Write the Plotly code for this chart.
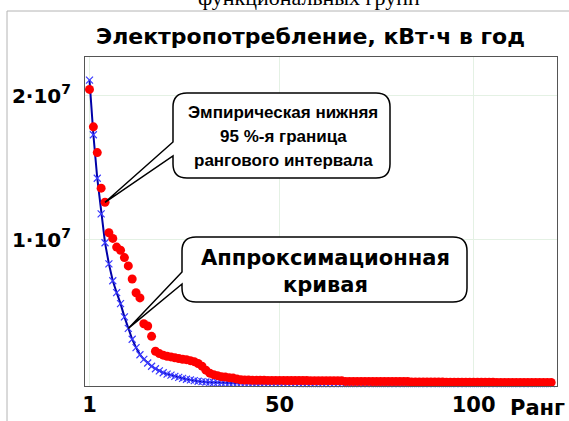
import plotly.graph_objects as go

# ---------------- data ----------------
ranks = list(range(1, 121))

empirical_m = [
    20.45, 17.85, 16.06, 13.59, 12.61, 10.49, 10.10, 9.50, 9.28, 8.77,
    8.19, 7.28, 6.33, 5.97, 4.17, 4.02, 3.30, 2.26, 2.10, 1.99,
    1.92, 1.87, 1.81, 1.76, 1.71, 1.68, 1.61, 1.54, 1.41, 1.23,
    0.95, 0.74, 0.64, 0.57, 0.50, 0.47, 0.43, 0.40, 0.33, 0.28,
    0.26, 0.26, 0.25, 0.25, 0.25, 0.25, 0.24, 0.24, 0.24, 0.24,
    0.24, 0.23, 0.23, 0.23, 0.23, 0.23, 0.23, 0.22, 0.22, 0.22,
    0.22, 0.22, 0.22, 0.22, 0.22, 0.21, 0.17, 0.17, 0.17, 0.17,
    0.17, 0.17, 0.17, 0.16, 0.16, 0.16, 0.16, 0.16, 0.16, 0.16,
    0.16, 0.16, 0.16, 0.12, 0.12, 0.12, 0.12, 0.12, 0.12, 0.12,
    0.12, 0.12, 0.11, 0.11, 0.11, 0.11, 0.11, 0.11, 0.11, 0.11,
    0.11, 0.11, 0.11, 0.11, 0.11, 0.10, 0.10, 0.10, 0.10, 0.10,
    0.10, 0.10, 0.10, 0.10, 0.10, 0.10, 0.10, 0.10, 0.10, 0.10,
]

# approximation curve (x1e6)
approx_m = [
    21.09, 17.30, 14.28, 11.80, 9.80, 8.33, 7.16, 6.33, 5.57, 4.65,
    3.85, 3.10, 2.52, 2.02, 1.70, 1.45, 1.22, 1.05, 0.90, 0.77,
    0.68, 0.60, 0.52, 0.45, 0.38, 0.32, 0.27, 0.22, 0.18, 0.15,
    0.13, 0.11, 0.09, 0.08, 0.07, 0.065, 0.06, 0.06, 0.055, 0.05,
    0.05, 0.045, 0.045, 0.04, 0.04, 0.04, 0.035, 0.035, 0.035, 0.03,
    0.03, 0.03, 0.03, 0.03, 0.025, 0.025, 0.025, 0.025, 0.025, 0.02,
    0.02, 0.02, 0.02, 0.02, 0.02, 0.02, 0.02, 0.02, 0.015, 0.015,
    0.015, 0.015, 0.015, 0.015, 0.015, 0.015, 0.015, 0.015, 0.015, 0.01,
    0.01, 0.01, 0.01, 0.01, 0.01, 0.01, 0.01, 0.01, 0.01, 0.01,
    0.01, 0.01, 0.01, 0.01, 0.01, 0.01, 0.01, 0.01, 0.01, 0.01,
    0.01, 0.01, 0.01, 0.01, 0.01, 0.01, 0.01, 0.01, 0.01, 0.01,
    0.01, 0.01, 0.01, 0.01, 0.01, 0.01, 0.01, 0.01, 0.01, 0.01,
]

empirical = [v * 1e6 for v in empirical_m]
approx = [v * 1e6 for v in approx_m]

x_tickvals = [1, 50, 100]
x_ticktext = ["<b>1</b>", "<b>50</b>", "<b>100</b>"]
y_tickvals = [1e7, 2e7]
y_ticktext = ["<b>1·10<sup>7</sup></b>", "<b>2·10<sup>7</sup></b>"]

title_text = "<b>Электропотребление, кВт·ч в год</b>"
top_cut_text = "функциональных групп"
bubble1_lines = ["<b>Эмпирическая нижняя</b>", "<b>95 %-я граница</b>", "<b>рангового интервала</b>"]
bubble2_lines = ["<b>Аппроксимационная</b>", "<b>кривая</b>"]
x_name = "<b>Ранг</b>"

# ---------------- layout geometry ----------------
W, H = 569, 421
L, R, T, B = 85, 557, 57, 386
x_range = [-0.16, 121.5]
y_range = [-1.5e5, 2.27e7]
ARIAL = "Liberation Sans, Arial, sans-serif"
WIDE = "DejaVu Sans, Verdana, sans-serif"


def data_to_px(x, y):
    px = L + (x - x_range[0]) / (x_range[1] - x_range[0]) * (R - L)
    py = B - (y - y_range[0]) / (y_range[1] - y_range[0]) * (B - T)
    return px, py


def px_to_paper(px, py):
    return (px - L) / (R - L), (B - py) / (B - T)


def bubble_path(x0, y0, x1, y1, r, wy0, wy1, tip):
    tx, ty = tip
    seq = [
        ("M", [(x0 + r, y0)]),
        ("L", [(x1 - r, y0)]),
        ("Q", [(x1, y0), (x1, y0 + r)]),
        ("L", [(x1, y1 - r)]),
        ("Q", [(x1, y1), (x1 - r, y1)]),
        ("L", [(x0 + r, y1)]),
        ("Q", [(x0, y1), (x0, y1 - r)]),
        ("L", [(x0, wy1)]),
        ("L", [(tx, ty)]),
        ("L", [(x0, wy0)]),
        ("L", [(x0, y0 + r)]),
        ("Q", [(x0, y0), (x0 + r, y0)]),
    ]
    out = []
    for cmd, pts in seq:
        coords = []
        for (a, b) in pts:
            u, v = px_to_paper(a, b)
            coords.append(f"{u:.5f},{v:.5f}")
        out.append(cmd + " " + " ".join(coords))
    return " ".join(out) + " Z"


fig = go.Figure()

fig.add_trace(go.Scatter(
    x=ranks, y=approx, mode="lines+markers",
    line=dict(color="#0000a8", width=2),
    marker=dict(symbol="x-thin", size=7, line=dict(color="#3a3aff", width=1.2)),
    cliponaxis=False, showlegend=False,
))
fig.add_trace(go.Scatter(
    x=ranks, y=empirical, mode="markers",
    marker=dict(symbol="circle", size=9, color="#ff0000", line=dict(width=0)),
    cliponaxis=False, showlegend=False,
))

shapes = []
# outer thin image border
bx0, by0 = px_to_paper(7, 11)
bx1, by1 = px_to_paper(W + 5, 11)
bx2, by2 = px_to_paper(7, H + 5)
shapes.append(dict(type="line", xref="paper", yref="paper", x0=bx0, y0=by0, x1=bx1, y1=by1,
                   line=dict(color="#b4b4b4", width=1)))
shapes.append(dict(type="line", xref="paper", yref="paper", x0=bx0, y0=by0, x1=bx2, y1=by2,
                   line=dict(color="#b4b4b4", width=1)))

tip1 = data_to_px(ranks[4], empirical[4])
tip2 = data_to_px(ranks[10], approx[10])
shapes.append(dict(type="path", xref="paper", yref="paper",
                   path=bubble_path(173, 93, 390, 178, 14, 142, 156, tip1),
                   fillcolor="white", line=dict(color="black", width=1.5)))
shapes.append(dict(type="path", xref="paper", yref="paper",
                   path=bubble_path(182, 237, 467, 302, 14, 272, 284, tip2),
                   fillcolor="white", line=dict(color="black", width=1.5)))

annotations = []


def add_text(text, cx, cy, size, family=ARIAL, color="black", xanchor="center"):
    u, v = px_to_paper(cx, cy)
    annotations.append(dict(text=text, x=u, y=v, xref="paper", yref="paper",
                            xanchor=xanchor, yanchor="middle", showarrow=False,
                            font=dict(family=family, size=size, color=color)))


add_text(top_cut_text, 309, -2, 22, family="Liberation Serif, Times New Roman, serif")
add_text(title_text, 310, 36, 22, family=WIDE)
for i, line in enumerate(bubble1_lines):
    add_text(line, 283, 112 + 24 * i, 17)
for i, line in enumerate(bubble2_lines):
    add_text(line, 325, 258 + 27 * i, 21, family=WIDE)
add_text(x_name, 537, 408, 21, family=WIDE)

fig.update_layout(
    width=W, height=H,
    margin=dict(l=L, r=W - R, t=T, b=H - B, pad=0, autoexpand=False),
    paper_bgcolor="white", plot_bgcolor="white",
    shapes=shapes, annotations=annotations,
    font=dict(family=WIDE, color="black"),
    xaxis=dict(range=x_range, tickvals=x_tickvals, ticktext=x_ticktext, automargin=False,
               showgrid=True, gridcolor="#e4f1e4", gridwidth=1, zeroline=False,
               showline=True, linecolor="#555555", linewidth=1, mirror=True,
               ticks="", ticklabelstandoff=0, tickfont=dict(size=21, family=WIDE)),
    yaxis=dict(range=y_range, tickvals=y_tickvals, ticktext=y_ticktext, automargin=False,
               showgrid=True, gridcolor="#e4f1e4", gridwidth=1, zeroline=False,
               showline=True, linecolor="#555555", linewidth=1, mirror=True,
               ticks="", ticklabelstandoff=9, tickfont=dict(size=20, family=WIDE)),
)

fig.write_html("out.html")
